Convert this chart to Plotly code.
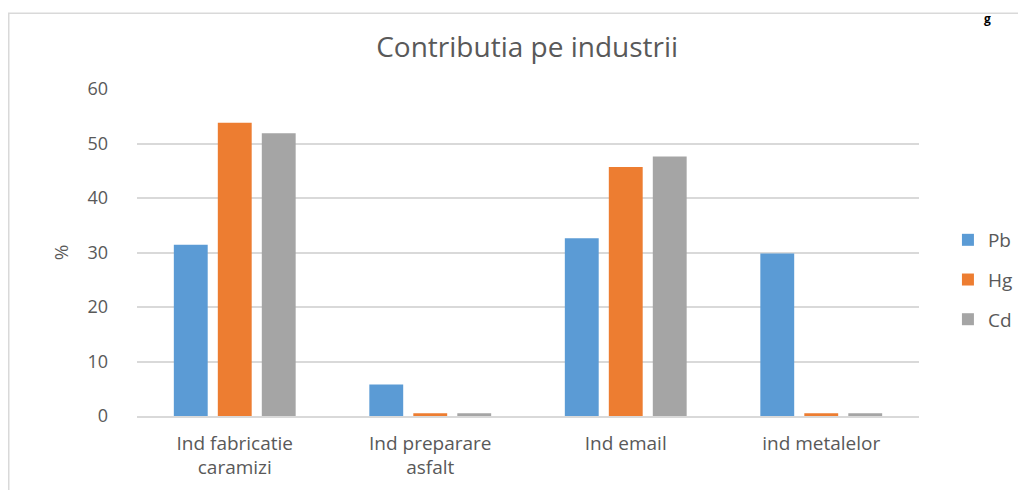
import plotly.graph_objects as go

categories = ["Ind fabricatie<br>caramizi", "Ind preparare<br>asfalt", "Ind email", "ind metalelor"]
series_names = ["Pb", "Hg", "Cd"]
pb = [31.4, 5.8, 32.6, 29.8]
hg = [53.8, 0.5, 45.7, 0.5]
cd = [51.9, 0.5, 47.6, 0.5]
colors = ["#5b9bd5", "#ed7d31", "#a5a5a5"]
y_ticks = [0, 10, 20, 30, 40, 50, 60]

fig = go.Figure()
for name, vals, col in zip(series_names, [pb, hg, cd], colors):
    fig.add_trace(go.Bar(x=categories, y=vals, name=name, marker_color=col,
                         marker_line_width=0, legendgroup=name))

font_family = "Open Sans, Noto Sans, sans-serif"
txt = "#595959"
fig.update_layout(
    width=1018, height=482,
    paper_bgcolor="white", plot_bgcolor="white",
    margin=dict(l=129, r=107, t=81, b=74, autoexpand=False),
    barmode="group", bargap=0.325, bargroupgap=0.23,
    title=dict(text="Contributia pe industrii", x=0.51, xanchor="center",
               xref="container", yref="container", y=0.919, yanchor="middle",
               font=dict(family=font_family, size=28, color=txt)),
    font=dict(family=font_family, size=18, color=txt),
    legend=dict(x=1.037, xanchor="left", y=0.416, yanchor="middle",
                tracegroupgap=12, font=dict(size=19, color=txt)),
    showlegend=True,
)
fig.update_xaxes(showline=True, linecolor="#d9d9d9", linewidth=1.5,
                 tickfont=dict(size=19, color=txt), ticks="",
                 ticklabelstandoff=9)
fig.update_yaxes(range=[0, 60], tickvals=y_ticks, showgrid=True,
                 gridcolor="#d9d9d9", gridwidth=1.5, zeroline=False,
                 ticks="", ticklabelstandoff=28,
                 tickfont=dict(size=18, color=txt),
                 title=dict(text="%", standoff=13, font=dict(size=19, color=txt)))

# chart frame
fig.add_shape(type="rect", xref="paper", yref="paper",
              x0=-0.164, x1=1.2, y0=-0.3, y1=1.232,
              line=dict(color="#d9d9d9", width=1.5), layer="below")
# cut-off page text at the top right
fig.add_annotation(text="<b>g</b>", xref="paper", yref="paper", x=1.088, y=1.2477,
                   xanchor="center", yanchor="top",
                   showarrow=False, font=dict(size=12, color="black", family=font_family))

fig.write_html("out.html")
